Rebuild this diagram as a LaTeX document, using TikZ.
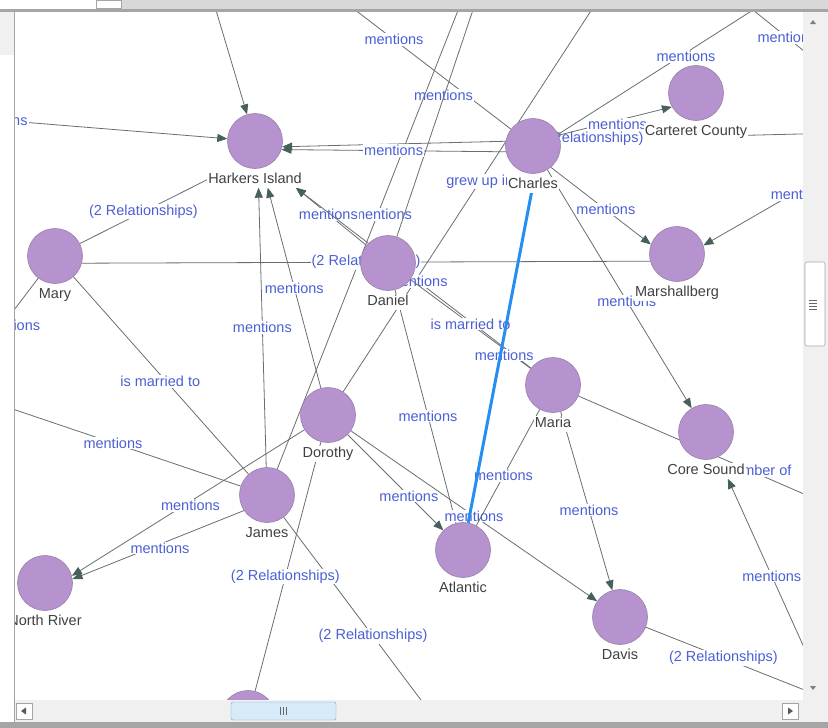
\documentclass[tikz,border=0pt]{standalone}
\usepackage{fontspec}
\setmainfont{Liberation Sans}
\usetikzlibrary{arrows.meta}
\definecolor{placefill}{RGB}{182,147,207}
\definecolor{placeline}{RGB}{150,128,168}
\definecolor{relgray}{RGB}{104,110,114}
\definecolor{tipgray}{RGB}{70,96,92}
\definecolor{lblblue}{RGB}{76,96,212}
\definecolor{namegray}{RGB}{64,64,64}
\definecolor{pathblue}{RGB}{38,142,240}
\definecolor{barlight}{RGB}{240,240,240}
\definecolor{barline}{RGB}{165,165,165}
\definecolor{thumbblue}{RGB}{214,234,248}
\definecolor{thumbline}{RGB}{120,160,190}
\pgfdeclarelayer{bg}
\pgfdeclarelayer{edges}
\pgfsetlayers{bg,edges,main}

\begin{document}
\begin{tikzpicture}[x=1pt, y=-1pt,
    place/.style={circle, draw=placeline, line width=0.6pt, fill=placefill,
                  minimum size=55pt, inner sep=0pt},
    vname/.style={font=\fontsize{14.5}{16}\selectfont, text=namegray, fill=white,
                  inner sep=1pt, text height=10.5pt, text depth=3pt},
    rel/.style={draw=relgray, line width=0.8pt},
    arr/.style={rel, -{Triangle[length=10pt, width=8pt, color=tipgray]}},
    lbl/.style={font=\fontsize{14.5}{16}\selectfont, text=lblblue, fill=white, inner sep=1pt},
    hilite/.style={draw=pathblue, line width=3pt},
    btn/.style={draw=barline, fill=white, line width=0.6pt}
]
\useasboundingbox (0,0) rectangle (828,728);
\begin{pgfonlayer}{bg}
\fill[white] (0,0) rectangle (828,728);
\end{pgfonlayer}

% places
\begin{scope}
\clip (15,11.5) rectangle (803,700);
\node[place, label={[vname, name=harkers-l, label distance=3pt]below:Harkers Island}] (harkers) at (255,141) {};
\node[place, label={[vname, name=charles-l, label distance=3pt]below:Charles}] (charles) at (533,146) {};
\node[place, label={[vname, name=carteret-l, label distance=3pt]below:Carteret County}] (carteret) at (696,93) {};
\node[place, label={[vname, name=mary-l, label distance=3pt]below:Mary}] (mary) at (55,256) {};
\node[place, label={[vname, name=daniel-l, label distance=3pt]below:Daniel}] (daniel) at (388,263) {};
\node[place, label={[vname, name=marshallberg-l, label distance=3pt]below:Marshallberg}] (marshallberg) at (677,254) {};
\node[place, label={[vname, name=maria-l, label distance=3pt]below:Maria}] (maria) at (553,385) {};
\node[place, label={[vname, name=dorothy-l, label distance=3pt]below:Dorothy}] (dorothy) at (328,415) {};
\node[place, label={[vname, name=coresound-l, label distance=3pt]below:Core Sound}] (coresound) at (706,432) {};
\node[place, label={[vname, name=james-l, label distance=3pt]below:James}] (james) at (267,495) {};
\node[place, label={[vname, name=northriver-l, label distance=3pt]below:North River}] (northriver) at (45,583) {};
\node[place, label={[vname, name=atlantic-l, label distance=3pt]below:Atlantic}] (atlantic) at (463,550) {};
\node[place, label={[vname, name=davis-l, label distance=3pt]below:Davis}] (davis) at (620,617) {};
\node[place] (lower) at (248,718) {};
\end{scope}

% ends that lie outside the view
\coordinate (offTop) at (207,-20);
\coordinate (offLeft) at (-40,117);
\coordinate (offTopB) at (316,-20);
\coordinate (offTopC) at (470,-20);
\coordinate (offTopD) at (483,-20);
\coordinate (offTopF) at (611,-20);
\coordinate (offTopE) at (753,10);
\coordinate (offRightC) at (850,88);
\coordinate (offRightA) at (840,133);
\coordinate (offRightB) at (850,161);
\coordinate (offLeftB) at (-20,355);
\coordinate (offLeftC) at (-20,398);
\coordinate (offRightD) at (850,514);
\coordinate (offRightE) at (830,705);
\coordinate (offRightF) at (850,708);
\coordinate (offBottom) at (466,760);

\begin{pgfonlayer}{edges}
\clip (15,11.5) rectangle (803,700);
\draw[arr] (offTop) -- (harkers);
\draw[arr] (offLeft) -- node[lbl, pos=0.165, xshift=-6pt] {mentions} (harkers);
\draw[rel] (offTopB) -- node[lbl, pos=0.4] {mentions}
    node[lbl, pos=0.7, xshift=-9pt, yshift=-11pt] {mentions} (charles);
\draw[rel] (offTopC) -- node[lbl, pos=0.48, xshift=5pt] {mentions} (james);
\draw[rel] (offTopD) -- (daniel);
\draw[rel] (offTopF) -- node[lbl, pos=0.49] {grew up in} (dorothy);
\draw[arr] (offRightA) -- node[lbl, pos=0.45] {(2 Relationships)} (harkers.-12);
\draw[arr] (charles.192) -- node[lbl, pos=0.5] {mentions} (harkers.-18);
\draw[arr] (charles.23) -- node[lbl, pos=0.52, yshift=-4pt] {mentions} (carteret.210);
\draw[arr] (charles.-50) -- node[lbl, pos=0.55] {mentions} (marshallberg.160);
\draw[arr] (charles) -- node[lbl, pos=0.55] {mentions} (coresound);
\draw[arr] (offRightB) -- node[lbl, pos=0.34, yshift=-5pt] {mentions} (marshallberg.18);
\draw[rel] (offTopE) -- node[lbl, pos=0.344, yshift=-4pt] {mentions} (charles.25);
\draw[rel] (offTopE) -- node[lbl, pos=0.35] {mentions} (offRightC);
\draw[rel] (mary) -- node[lbl, pos=0.5] {(2 Relationships)} (harkers-l.west);
\draw[rel] (mary.-15) -- node[lbl, pos=0.5] {(2 Relationships)} (marshallberg.195);
\draw[rel] (mary) -- node[lbl, pos=0.61, xshift=8pt] {mentions} (offLeftB);
\draw[rel] (mary) -- node[lbl, pos=0.53, xshift=-6pt] {is married to} (james);
\draw[rel] (offLeftC) -- node[lbl, pos=0.51] {mentions} (james);
\draw[arr] (dorothy) -- node[lbl, pos=0.49, yshift=-4pt] {mentions} (northriver.15);
\draw[arr] (james.214) -- node[lbl, pos=0.49, yshift=-4pt] {mentions} (northriver.8);
\draw[arr] (james) -- node[lbl, pos=0.5] {mentions} (harkers-l.-66);
\draw[arr] (dorothy) -- node[lbl, pos=0.5] {mentions} (harkers-l.-32);
\draw[arr] (daniel) -- node[lbl, pos=0.54] {mentions} (harkers-l.-11);
\draw[arr] (maria) -- node[lbl, pos=0.48] {mentions} (harkers-l.-11);
\draw[rel] (daniel) -- node[lbl, pos=0.5] {is married to}
    node[lbl, pos=0.78, yshift=-6pt] {mentions} (maria);
\draw[rel] (daniel) -- node[lbl, pos=0.54] {mentions} (atlantic);
\draw[arr] (dorothy) -- node[lbl, pos=0.64] {mentions} (atlantic);
\draw[arr] (dorothy) -- node[lbl, pos=0.5] {mentions} (davis);
\draw[rel] (maria) -- node[lbl, pos=0.57] {mentions} (atlantic);
\draw[arr] (maria) -- node[lbl, pos=0.55] {mentions} (davis);
\draw[rel] (maria) -- node[lbl, pos=0.63] {is member of} (offRightD);
\draw[arr] (offRightE) -- node[lbl, pos=0.57] {mentions} (coresound-l.-20);
\draw[rel] (davis) -- node[lbl, pos=0.38] {(2 Relationships)} (offRightF);
\draw[rel] (james) -- node[lbl, pos=0.49] {(2 Relationships)} (offBottom);
\draw[rel] (dorothy) -- node[lbl, pos=0.54] {(2 Relationships)} (lower);
\draw[hilite] (charles-l) -- (atlantic);
\end{pgfonlayer}

% window frame and scroll bars
\fill[barlight!90!black] (121,0) rectangle (828,9);
\draw[barline] (96,0.5) rectangle (121,8.5);
\fill[barline] (0,9) rectangle (828,11.5);
\fill[barlight] (0,11.5) rectangle (14,55);
\fill[barlight] (803,11.5) rectangle (828,700);
\fill[barlight] (15,700) rectangle (828,722);
\fill[barline] (0,722) rectangle (828,728);
\draw[barline, line width=1pt] (14.5,11.5) -- (14.5,722);
\fill[gray] (810,24) -- (816,24) -- (813,20) -- cycle;
\fill[gray] (810,686) -- (816,686) -- (813,690) -- cycle;
\draw[btn, rounded corners=2pt] (805,262) rectangle (825,346);
\foreach \y in {300,303,306,309}
  \draw[gray!80!black] (809,\y) -- (817,\y);
\draw[btn] (16,703) rectangle (32,719);
\fill[gray!70!black] (21,711) -- (26,707.5) -- (26,714.5) -- cycle;
\draw[btn] (782,703) rectangle (798,719);
\fill[gray!70!black] (793,711) -- (788,707.5) -- (788,714.5) -- cycle;
\draw[draw=thumbline, fill=thumbblue, rounded corners=2pt] (231,702) rectangle (336,720);
\foreach \x in {280,283,286}
  \draw[gray!80!black] (\x,707) -- (\x,715);
\end{tikzpicture}
\end{document}
